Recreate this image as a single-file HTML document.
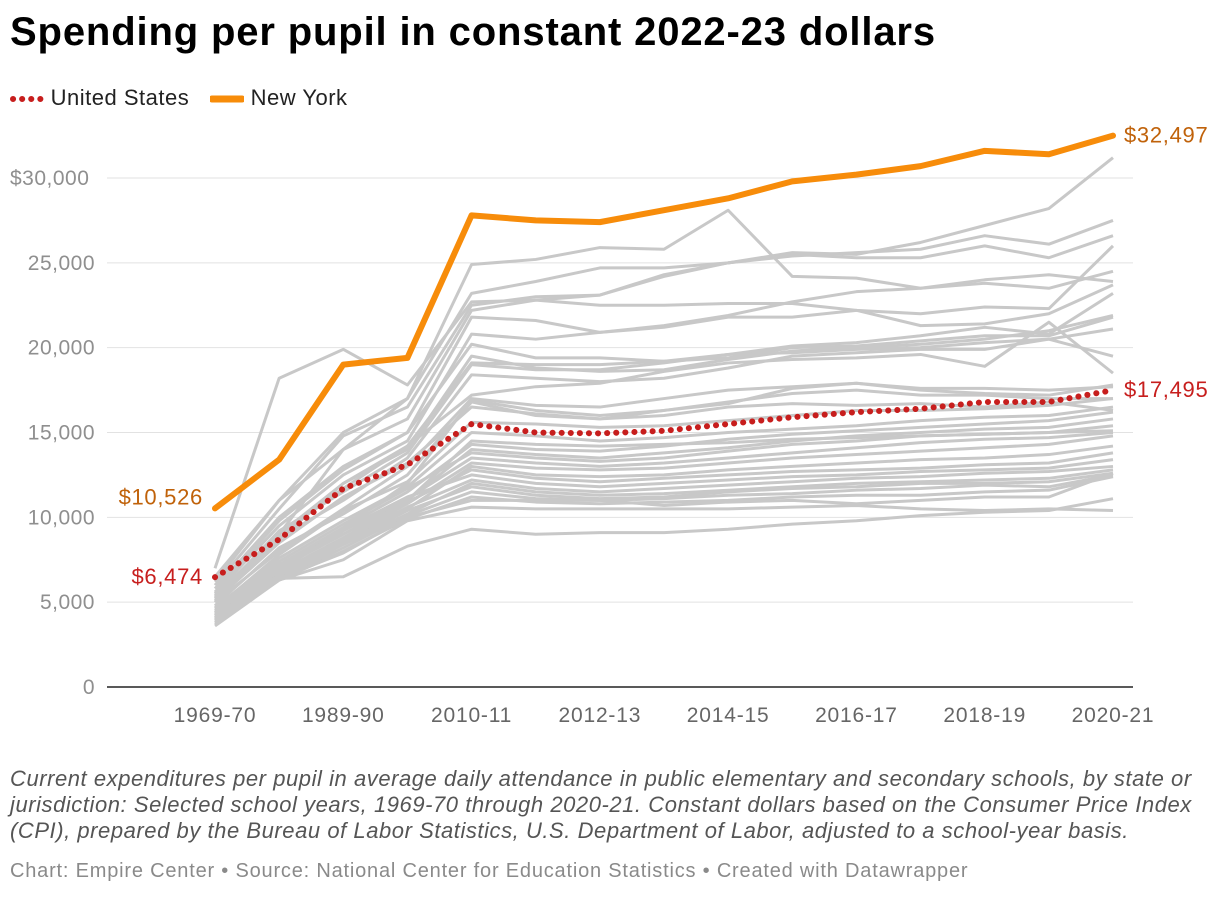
<!DOCTYPE html>
<html><head><meta charset="utf-8">
<style>
body{margin:0;width:1220px;height:898px;background:#fff;font-family:"Liberation Sans",Arial,sans-serif;overflow:hidden;position:relative}
.t{position:absolute;left:10px;top:10px;font-size:40px;font-weight:bold;color:#000;letter-spacing:0.85px}
.lg{position:absolute;top:85px;font-size:22px;color:#222;letter-spacing:0.5px}
.note{position:absolute;left:10px;top:766px;width:1208px;font-size:22px;letter-spacing:0.55px;font-style:italic;color:#555;line-height:26px}
.cred{position:absolute;left:10px;top:860px;font-size:20px;letter-spacing:0.8px;color:#8a8a8a}
</style></head><body>
<div class="t">Spending per pupil in constant 2022-23 dollars</div>
<div class="lg" style="left:10px"><svg width="34" height="14" style="vertical-align:middle"><line x1="3" y1="7" x2="32" y2="7" stroke="#c71e1d" stroke-width="6" stroke-linecap="round" stroke-dasharray="0.1 9"/></svg> United States</div>
<div class="lg" style="left:210px"><svg width="34" height="14" style="vertical-align:middle"><line x1="2" y1="7" x2="32" y2="7" stroke="#f78c0a" stroke-width="7" stroke-linecap="round"/></svg> New York</div>
<svg id="chart" width="1220" height="760" style="position:absolute;left:0;top:0"></svg>
<div class="note">Current expenditures per pupil in average daily attendance in public elementary and secondary schools, by state or jurisdiction: Selected school years, 1969-70 through 2020-21. Constant dollars based on the Consumer Price Index (CPI), prepared by the Bureau of Labor Statistics, U.S. Department of Labor, adjusted to a school-year basis.</div>
<div class="cred">Chart: Empire Center • Source: National Center for Education Statistics • Created with Datawrapper</div>
<script>
const categories=["1969-70","1979-80","1989-90","1999-00","2010-11","2011-12","2012-13","2013-14","2014-15","2015-16","2016-17","2017-18","2018-19","2019-20","2020-21"];
const tickCats=["1969-70","1989-90","2010-11","2012-13","2014-15","2016-17","2018-19","2020-21"];
const yTicks=[0,5000,10000,15000,20000,25000,30000];
const usValues=[6474,8700,11700,13100,15500,15000,14950,15100,15500,15900,16200,16400,16800,16800,17495];
const nyValues=[10526,13400,19000,19400,27800,27500,27400,28100,28800,29800,30200,30700,31600,31400,32497];
const states=[
[5000,9000,14000,17000,24900,25200,25900,25800,28100,24200,24100,23500,23800,23500,24500],
[7000,18200,19900,17800,22700,22800,23100,24200,25000,25600,25500,26200,27200,28200,31200],
[6500,11000,15000,17000,23200,23900,24700,24700,25000,25400,25600,25800,26600,26100,27500],
[6000,10500,14800,16500,22500,23000,23100,24300,25000,25500,25300,25300,26000,25300,26600],
[6200,11000,14000,15800,22200,22800,22500,22500,22600,22600,22200,22000,22400,22300,26000],
[5800,10000,13000,15000,21800,21600,20900,21300,21900,22700,23300,23500,24000,24300,23900],
[5500,9500,12500,14500,20800,20500,20900,21200,21800,21800,22200,21300,21400,22000,23700],
[5600,9800,12800,15000,20200,19400,19400,19200,19600,20100,20300,20700,21200,20800,23200],
[5400,9000,12000,14000,19500,18800,18600,18700,19300,19800,20000,20200,20500,21000,21900],
[5200,9200,11500,13800,19000,18700,18700,19100,19600,19700,19900,20000,20300,20500,21100],
[5000,8800,11000,13500,18400,18200,18000,18200,18800,19500,19700,19900,19900,20500,19500],
[5300,8700,12000,14200,17200,17700,17900,18600,19100,19300,19400,19600,18900,21500,18500],
[5000,8000,10500,13000,17000,16600,16500,17000,17500,17700,17900,17500,17300,17200,17800],
[4800,8200,10200,12500,16800,16000,15800,16300,16800,17300,17500,17200,17200,17000,17000],
[5100,8500,11200,13200,16500,16100,15800,16000,16500,16700,16600,16700,16500,16800,16300],
[4600,7800,10400,12100,15600,15500,15300,15400,15700,16000,16300,16300,16400,16600,17000],
[4700,7600,9800,11800,15000,14800,14500,14700,15000,15200,15400,15700,15900,16000,16500],
[4400,7200,9400,11500,14300,14000,13900,14200,14600,14900,15100,15300,15500,15700,16200],
[4300,7000,9000,11000,14000,13700,13500,13800,14100,14500,14800,15000,15200,15300,15800],
[4500,7400,9600,11700,13800,13500,13300,13500,13900,14300,14500,14800,14900,15000,15400],
[4200,6900,9200,11100,13500,13200,13000,13200,13500,13800,14100,14400,14600,14700,15000],
[4100,6800,8800,10800,13200,12900,12800,12900,13200,13500,13700,13900,14100,14300,14800],
[4000,6600,8600,10500,13000,12500,12400,12500,12800,13000,13200,13400,13500,13700,14200],
[4300,7000,9000,10900,12800,12300,12100,12300,12500,12700,12800,12900,13100,13200,13800],
[4400,7100,9300,11200,12500,12000,11800,12000,12200,12400,12500,12700,12800,12900,13400],
[4200,6800,8700,10600,12200,11700,11500,11700,11900,12100,12300,12400,12600,12700,13000],
[3900,6500,8400,10200,12000,11500,11300,11400,11600,11800,12000,12100,12200,12300,12800],
[4100,6600,8500,10400,11800,11300,11100,11200,11500,11700,11800,12000,12000,12100,12600],
[4000,6400,8200,10100,11500,11100,11000,11100,11300,11400,11600,11700,11900,11800,12500],
[3900,6300,8000,9900,11200,10900,10800,10900,11000,11200,11300,11300,11500,11600,12400],
[3800,6400,7900,10000,11000,11000,11000,10700,10900,11000,10800,11000,11200,11200,12600],
[3700,6400,6500,8300,9300,9000,9100,9100,9300,9600,9800,10100,10300,10400,11100],
[3600,6300,7500,9800,10600,10500,10500,10500,10500,10600,10700,10500,10400,10500,10400],
[4000,6600,8700,11000,14500,14300,14200,14300,14400,14600,14700,14800,14900,15000,15100],
[4400,7200,9400,12000,16900,16300,16000,16300,16700,17600,17900,17600,17600,17500,17700],
[5300,9000,11700,14200,19100,19000,19000,19200,19400,20000,20100,20400,20700,20700,21800]
];
const NS="http://www.w3.org/2000/svg";
const svg=document.getElementById('chart');
const x=i=>215+i*(1113-215)/14;
const xc=c=>x(categories.indexOf(c));
const y=v=>687-v*(687-178)/30000;
function mk(t,a){const e=document.createElementNS(NS,t);for(const k in a)e.setAttribute(k,a[k]);svg.appendChild(e);return e;}
yTicks.forEach(v=>{
  if(v>0){const g=mk('line',{x1:107,x2:1133,y1:y(v),y2:y(v),stroke:'#e2e2e2','stroke-width':1});
  
  }
  const t=mk('text',{x:95,y:y(v)+7,'text-anchor':'end','font-size':21,'letter-spacing':0.5,fill:'#8f8f8f'});
  t.textContent=v===30000?'$30,000':v.toLocaleString('en-US');
  if(v===30000){t.setAttribute('text-anchor','start');t.setAttribute('x',10);}
  
  
});
const ax=mk('line',{x1:107,x2:1133,y1:687,y2:687,stroke:'#222','stroke-width':1.5});


tickCats.forEach(c=>{
  const t=mk('text',{x:xc(c),y:722,'text-anchor':'middle','font-size':21,'letter-spacing':0.8,fill:'#666'});
  t.textContent=c;
  
  
});
const pts=a=>a.map((v,i)=>x(i)+','+y(v)).join(' ');
states.forEach(s=>{
  const p=mk('polyline',{points:pts(s),fill:'none',stroke:'#c8c8c8','stroke-width':3,'stroke-linejoin':'round'});
  
  
});
const us=mk('polyline',{points:pts(usValues),fill:'none',stroke:'#c71e1d','stroke-width':6,'stroke-linecap':'round','stroke-dasharray':'0.1 9'});


const ny=mk('polyline',{points:pts(nyValues),fill:'none',stroke:'#f78c0a','stroke-width':6,'stroke-linejoin':'round','stroke-linecap':'round'});


const fmt=v=>'$'+v.toLocaleString('en-US');
function lbl(txt,xx,yy,anchor,col,name){const t=mk('text',{x:xx,y:yy,'text-anchor':anchor,'font-size':22,'letter-spacing':0.7,fill:col});t.textContent=txt;

}
lbl(fmt(nyValues[0]),x(0)-12,y(nyValues[0])-4,'end','#c0620a','ny-start-label');
lbl(fmt(usValues[0]),x(0)-12,y(usValues[0])+7,'end','#c71e1d','us-start-label');
lbl(fmt(nyValues[14]),x(14)+11,y(nyValues[14])+7,'start','#c0620a','ny-end-label');
lbl(fmt(usValues[14]),x(14)+11,y(usValues[14])+7,'start','#c71e1d','us-end-label');
</script>
</body></html>
